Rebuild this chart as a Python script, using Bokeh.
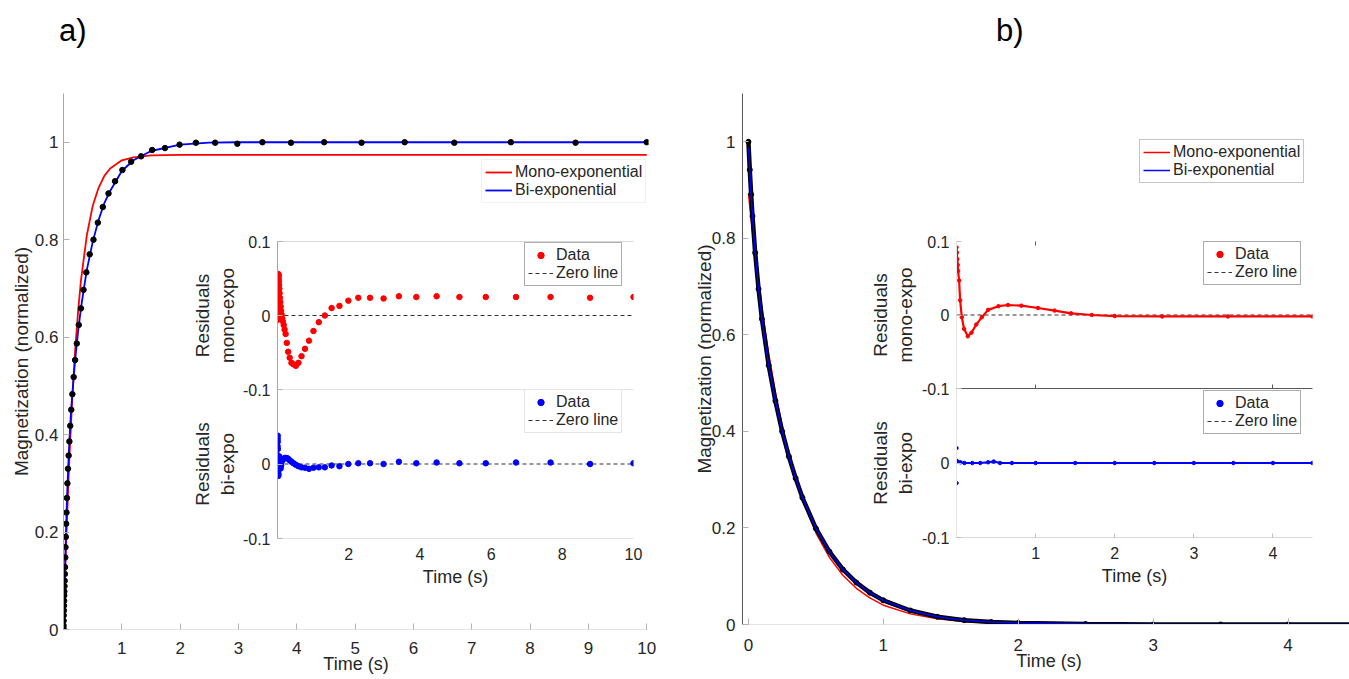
from bokeh.plotting import figure
from bokeh.models import (Column, Div, Legend, LegendItem, FixedTicker,
                          CustomJSTickFormatter, LinearAxis, Range1d)
from bokeh.embed import file_html
from bokeh.resources import INLINE

FONT = "Liberation Sans"
TXT = "#262626"
RED = "#ff0000"
BLUE = "#0000ff"

# ---------------- panel a (recovery) ----------------
t_a = [0.0, 0.001, 0.002, 0.004, 0.006, 0.008, 0.010, 0.012, 0.014, 0.017, 0.020, 0.023, 0.026,
       0.030, 0.034, 0.039, 0.045, 0.051, 0.059, 0.067, 0.077, 0.088, 0.101, 0.116, 0.133, 0.152,
       0.174, 0.199, 0.228, 0.261, 0.299, 0.343, 0.392, 0.449, 0.514, 0.589,
       0.674, 0.772, 0.884, 1.01, 1.16, 1.33, 1.52, 1.74, 1.99, 2.27,
       2.60, 2.98, 3.41, 3.90, 4.47, 5.11, 5.85, 6.70, 7.67, 8.78, 10.0]
m_a = [0.002, 0.008, 0.018, 0.029, 0.039, 0.049, 0.059, 0.070, 0.078, 0.089, 0.100, 0.114, 0.128,
       0.148, 0.169, 0.190, 0.217, 0.240, 0.270, 0.300, 0.330, 0.357, 0.386, 0.418, 0.451, 0.483,
       0.518, 0.553, 0.587, 0.625, 0.659, 0.697, 0.733, 0.770, 0.800, 0.835,
       0.867, 0.895, 0.920, 0.943, 0.960, 0.971, 0.984, 0.988, 0.995, 0.999,
       0.999, 0.997, 1.000, 0.999, 1.000, 0.999, 1.000, 0.999, 1.000, 0.999, 1.000]
res_mono_a = [-0.006, 0.000, 0.008, 0.016, 0.024, 0.031, 0.038, 0.044, 0.049, 0.053, 0.055, 0.056, 0.055,
              0.053, 0.050, 0.046, 0.041, 0.036, 0.030, 0.024, 0.018, 0.012, 0.006, 0.001, -0.004, -0.008,
              -0.013, -0.019, -0.025, -0.037, -0.049, -0.057, -0.064, -0.066, -0.068, -0.064,
              -0.055, -0.045, -0.034, -0.021, -0.009, 0.000, 0.010, 0.013, 0.020, 0.024,
              0.024, 0.023, 0.026, 0.025, 0.026, 0.025, 0.025, 0.025, 0.025, 0.024, 0.025]
res_bi_a = [0.000, 0.012, 0.024, 0.034, 0.038, 0.030, 0.020, 0.010, 0.002, -0.006, -0.012, -0.016, -0.014,
            -0.008, -0.002, 0.004, 0.008, 0.010, 0.006, 0.000, -0.004, -0.006, -0.002, 0.003, 0.006, 0.006,
            0.007, 0.008, 0.008, 0.008, 0.007, 0.005, 0.003, 0.001, -0.001, -0.003,
            -0.0045, -0.005, -0.0065, -0.005, -0.0045, -0.0045, -0.002, -0.003, 0.000, 0.001,
            0.001, 0.000, 0.003, 0.001, 0.002, 0.001, 0.001, 0.002, 0.002, 0.000, 0.001]
mono_a_t = [0, 0.02, 0.05, 0.1, 0.15, 0.2, 0.25, 0.3, 0.4, 0.5, 0.6, 0.7, 0.8, 1.0, 1.2, 1.5, 2.0, 3.0, 5.0, 10.0]
mono_a = [0.0, 0.083, 0.194, 0.350, 0.474, 0.574, 0.653, 0.717, 0.809, 0.869, 0.906, 0.931, 0.946,
          0.963, 0.969, 0.973, 0.974, 0.974, 0.974, 0.974]
bi_a_t = [0, 0.005, 0.01, 0.02, 0.04, 0.06, 0.08, 0.1, 0.13, 0.16, 0.2, 0.25, 0.3, 0.35, 0.4, 0.5, 0.6,
          0.7, 0.8, 1.0, 1.2, 1.5, 2.0, 2.5, 3.0, 4.0, 6.0, 10.0]
bi_a = [0.0, 0.04, 0.059, 0.10, 0.19, 0.27, 0.33, 0.386, 0.45, 0.496, 0.554, 0.612, 0.66, 0.70, 0.738,
        0.795, 0.84, 0.875, 0.90, 0.941, 0.963, 0.982, 0.995, 0.999, 1.0, 1.0, 1.0, 1.0]

# ---------------- panel b (decay) ----------------
t_b = [0, 0.01, 0.02, 0.03, 0.05, 0.075, 0.1, 0.15, 0.2, 0.25, 0.3, 0.35, 0.4, 0.5, 0.6, 0.7, 0.8,
       0.9, 1.0, 1.2, 1.4, 1.6, 1.8, 2.0, 2.5, 3.0, 3.5, 4.0, 4.5]
m_b = [1.0, 0.942, 0.891, 0.846, 0.770, 0.695, 0.633, 0.537, 0.463, 0.400, 0.348, 0.303, 0.263, 0.199,
       0.151, 0.114, 0.087, 0.066, 0.050, 0.029, 0.016, 0.009, 0.005, 0.003, 0.001, 0.0, 0.0, 0.0, 0.0]
bi_b = [0.988, 0.940, 0.891, 0.846, 0.770, 0.695, 0.633, 0.537, 0.463, 0.400, 0.348, 0.303, 0.263, 0.199,
        0.151, 0.114, 0.087, 0.066, 0.050, 0.029, 0.016, 0.009, 0.005, 0.003, 0.001, 0.0, 0.0, 0.0, 0.0]
mono_b_t = [0, 0.02, 0.05, 0.1, 0.15, 0.2, 0.25, 0.3, 0.4, 0.5, 0.6, 0.7, 0.8, 0.9, 1.0, 1.2, 1.4,
            1.6, 1.8, 2.0, 2.5, 3.0, 4.5]
mono_b = [0.893, 0.839, 0.765, 0.655, 0.561, 0.481, 0.412, 0.353, 0.259, 0.190, 0.139, 0.102, 0.075,
          0.055, 0.040, 0.022, 0.012, 0.006, 0.003, 0.002, 0.0, 0.0, 0.0]
res_mono_b_t = [0.0, 0.005, 0.01, 0.015, 0.02, 0.033, 0.046, 0.067, 0.096, 0.143, 0.19, 0.25, 0.32,
                0.4, 0.53, 0.65, 0.82, 1.03, 1.24, 1.45, 1.71, 2.0, 2.6, 3.43, 4.5]
res_mono_b = [0.092, 0.085, 0.076, 0.068, 0.060, 0.047, 0.020, -0.003, -0.019, -0.029, -0.024, -0.013,
              -0.003, 0.007, 0.012, 0.0136, 0.0127, 0.0095, 0.006, 0.0023, 0.0, -0.0014, -0.002, -0.002, -0.002]
res_bi_b_t = [0.0, 0.01, 0.05, 0.1, 0.2, 0.3, 0.4, 0.47, 0.55, 0.7, 1.0, 1.5, 2.0, 2.5, 3.0, 3.5, 4.0, 4.5]
res_bi_b = [0.003, 0.002, 0.001, 0.0, 0.0, 0.0, 0.001, 0.002, 0.0, 0.0, 0.0, 0.0, 0.0, 0.0, 0.0, 0.0, 0.0, 0.0]
res_bi_b_out_t = [0.003, 0.004]
res_bi_b_out = [0.020, -0.027]

zero_a_t = [0, 10]
zero_b_t = [0, 4.5]
zero_v = [0, 0]

ticks_main_y = [0, 0.2, 0.4, 0.6, 0.8, 1]
ticks_a_x = [1, 2, 3, 4, 5, 6, 7, 8, 9, 10]
ticks_b_x = [0, 1, 2, 3, 4]
ticks_ins_a_x = [2, 4, 6, 8, 10]
ticks_ins_b_x = [1, 2, 3, 4]
ticks_res_up = [-0.1, 0, 0.1]
ticks_res_lo = [-0.1, 0]

FMT = "return tick.toString();"
IL = 170   # common left border (the column aligns frames on it)
IR = 10    # common right border


def place(left, top):
    return {"position": "absolute", "left": f"{left}px", "top": f"{top}px"}


def panel(xr, yr, frame_left, top, ft, fw, fh, fb):
    p = figure(width=IL + fw + IR, height=ft + fh + fb,
               x_range=Range1d(*xr), y_range=Range1d(*yr),
               min_border_left=IL, min_border_top=ft, min_border_right=IR, min_border_bottom=fb,
               output_backend="svg", toolbar_location=None, styles=place(frame_left - IL, top))
    p.border_fill_color = None
    p.background_fill_color = None
    p.outline_line_color = None
    p.xgrid.visible = False
    p.ygrid.visible = False
    return p


def style_axis(ax, ticks, line_color, tick_color, size, standoff, label=None,
               label_size="18px", label_standoff=5, tick_in=5, hide=False):
    ax.ticker = FixedTicker(ticks=ticks)
    ax.formatter = CustomJSTickFormatter(code=FMT)
    ax.axis_line_color = line_color
    ax.axis_line_width = 1
    ax.major_tick_line_color = tick_color
    ax.major_tick_in = tick_in
    ax.major_tick_out = 0
    ax.minor_tick_line_color = None
    ax.major_label_text_font = FONT
    ax.major_label_text_font_size = size
    ax.major_label_text_color = TXT
    ax.major_label_standoff = standoff
    if hide:
        ax.major_label_text_alpha = 0
    if label is not None:
        ax.axis_label = label
        ax.axis_label_text_font = FONT
        ax.axis_label_text_font_size = label_size
        ax.axis_label_text_font_style = "normal"
        ax.axis_label_text_color = TXT
        ax.axis_label_standoff = label_standoff


def add_legend(p, items, loc, border, glyph_w=25):
    lg = Legend(items=items, location=loc, orientation="vertical")
    lg.label_text_font = FONT
    lg.label_text_font_size = "16px"
    lg.label_text_color = TXT
    lg.border_line_color = border
    lg.border_line_width = 1
    lg.background_fill_color = "white"
    lg.background_fill_alpha = 1
    lg.glyph_width = glyph_w
    lg.glyph_height = 16
    lg.label_height = 17
    lg.label_standoff = 3
    lg.padding = 3
    lg.spacing = 0
    lg.margin = 0
    p.add_layout(lg)


# ---------- main a : frame x 63..648, y 93..629 ----------
pa = panel((0, 10.03), (0, 1.1), 63, 83, 10, 585, 536, 60)
style_axis(pa.xaxis[0], ticks_a_x, "#e3e3e3", "#b3b3b3", "17px", 12, "Time (s)", "18px", -3, 6)
style_axis(pa.yaxis[0], ticks_main_y, "#a6a6a6", "#b3b3b3", "17px", 5,
           "Magnetization (normalized)", "19px", 0, 6)
r_mono_a = pa.line(mono_a_t, mono_a, color=RED, line_width=1.8)
r_bi_a = pa.line(bi_a_t, bi_a, color=BLUE, line_width=1.8)
pa.scatter(t_a, m_a, size=5.5, color="black")
add_legend(pa, [LegendItem(label="Mono-exponential", renderers=[r_mono_a]),
                LegendItem(label="Bi-exponential", renderers=[r_bi_a])],
           (418, 426), "#e3e3e3", 27)

# ---------- main b : frame x 742..1355, y 93..624 ----------
pb = panel((-0.044, 4.5), (0, 1.1), 742, 83, 10, 613, 531, 60)
style_axis(pb.xaxis[0], ticks_b_x, "#e3e3e3", "#b3b3b3", "17px", 14, "Time (s)", "18px", -3, 6)
style_axis(pb.yaxis[0], ticks_main_y, "#595959", "#b3b3b3", "17px", 7,
           "Magnetization (normalized)", "19px", -6, 6)
r_mono_b = pb.line(mono_b_t, mono_b, color=RED, line_width=1.5)
pb.line(t_b, m_b, color="black", line_width=4.5)
pb.scatter(t_b, m_b, size=5, color="black")
r_bi_b = pb.line(t_b, bi_b, color=BLUE, line_width=1.5)
add_legend(pb, [LegendItem(label="Mono-exponential", renderers=[r_mono_b]),
                LegendItem(label="Bi-exponential", renderers=[r_bi_b])],
           (397, 441), "#8c8c8c", 27)

# ---------- inset a upper : frame x 277..633, y 241..389 ----------
ia1 = panel((0, 10), (-0.1, 0.1), 277, 206, 35, 356, 148, 35)
style_axis(ia1.xaxis[0], ticks_ins_a_x, "#e3e3e3", None, "16px", 6, hide=True)
style_axis(ia1.yaxis[0], ticks_res_up, "#a6a6a6", "#b3b3b3", "16px", 7,
           "Residuals\nmono-expo", "19px", 2, 5)
top_a = LinearAxis()
style_axis(top_a, ticks_ins_a_x, "#d9d9d9", None, "16px", 6, hide=True)
ia1.add_layout(top_a, "above")
z1 = ia1.line(zero_a_t, zero_v, color="#333333", line_width=1.2, line_dash="4 3")
d1 = ia1.scatter(t_a, res_mono_a, size=5.5, color=RED)
add_legend(ia1, [LegendItem(label="Data", renderers=[d1]),
                 LegendItem(label="Zero line", renderers=[z1])], (247, 103), "#595959")

# ---------- inset a lower : frame x 277..633, y 389..538 ----------
ia2 = panel((0, 10), (-0.1, 0.1), 277, 379, 10, 356, 149, 60)
style_axis(ia2.xaxis[0], ticks_ins_a_x, "#e3e3e3", None, "16px", 9, "Time (s)", "18px", 4)
style_axis(ia2.yaxis[0], ticks_res_lo, "#a6a6a6", "#b3b3b3", "16px", 7,
           "Residuals\nbi-expo", "19px", 2, 5)
z2 = ia2.line(zero_a_t, zero_v, color="#333333", line_width=1.2, line_dash="4 3")
d2 = ia2.scatter(t_a, res_bi_a, size=5.5, color=BLUE)
add_legend(ia2, [LegendItem(label="Data", renderers=[d2]),
                 LegendItem(label="Zero line", renderers=[z2])], (247, 105), "#cccccc")

# ---------- inset b upper : frame x 956..1312, y 241..388 ----------
ib1 = panel((0, 4.5), (-0.1, 0.1), 956, 206, 35, 356, 147, 35)
style_axis(ib1.xaxis[0], [1, 4], "#595959", "#595959", "16px", 6, hide=True, tick_in=4)
style_axis(ib1.yaxis[0], ticks_res_up, "#e3e3e3", "#bfbfbf", "16px", 7,
           "Residuals\nmono-expo", "19px", 3, 5)
top_b = LinearAxis()
style_axis(top_b, [1, 4], None, "#595959", "16px", 6, hide=True, tick_in=4)
ib1.add_layout(top_b, "above")
z3 = ib1.line(zero_b_t, zero_v, color="#333333", line_width=1.1, line_dash="4 3")
ib1.line(res_mono_b_t, res_mono_b, color=RED, line_width=2.2)
d3 = ib1.scatter(res_mono_b_t, res_mono_b, size=3.5, color=RED)
add_legend(ib1, [LegendItem(label="Data", renderers=[d3]),
                 LegendItem(label="Zero line", renderers=[z3])], (247, 103), "#595959")

# ---------- inset b lower : frame x 956..1312, y 388..537 ----------
ib2 = panel((0, 4.5), (-0.1, 0.1), 956, 378, 10, 356, 149, 60)
style_axis(ib2.xaxis[0], ticks_ins_b_x, "#d9d9d9", "#bfbfbf", "16px", 9, "Time (s)", "18px", 4, 4)
style_axis(ib2.yaxis[0], ticks_res_lo, "#e3e3e3", "#bfbfbf", "16px", 7,
           "Residuals\nbi-expo", "19px", 3, 5)
z4 = ib2.line(zero_b_t, zero_v, color="#333333", line_width=1.1, line_dash="4 3")
ib2.line(res_bi_b_t, res_bi_b, color=BLUE, line_width=2)
d4 = ib2.scatter(res_bi_b_t, res_bi_b, size=3.5, color=BLUE)
ib2.scatter(res_bi_b_out_t, res_bi_b_out, size=3, color=BLUE)
add_legend(ib2, [LegendItem(label="Data", renderers=[d4]),
                 LegendItem(label="Zero line", renderers=[z4])], (247, 103), "#595959")

# ---------- panel letters ----------
lab_style = {"font-family": FONT, "font-size": "31px", "color": "black", "line-height": "normal"}
div_a = Div(text="a)", width=60, height=45, margin=(0, 0, 0, 0), styles={**place(59, 13), **lab_style})
div_b = Div(text="b)", width=60, height=45, margin=(0, 0, 0, 0), styles={**place(996, 13), **lab_style})

root = Column(children=[pa, pb, ia1, ia2, ib1, ib2, div_a, div_b],
              width=1349, height=679, sizing_mode="fixed",
              styles={"position": "relative", "overflow": "hidden", "background": "white"})

open("out.html", "w").write(file_html(root, INLINE))
